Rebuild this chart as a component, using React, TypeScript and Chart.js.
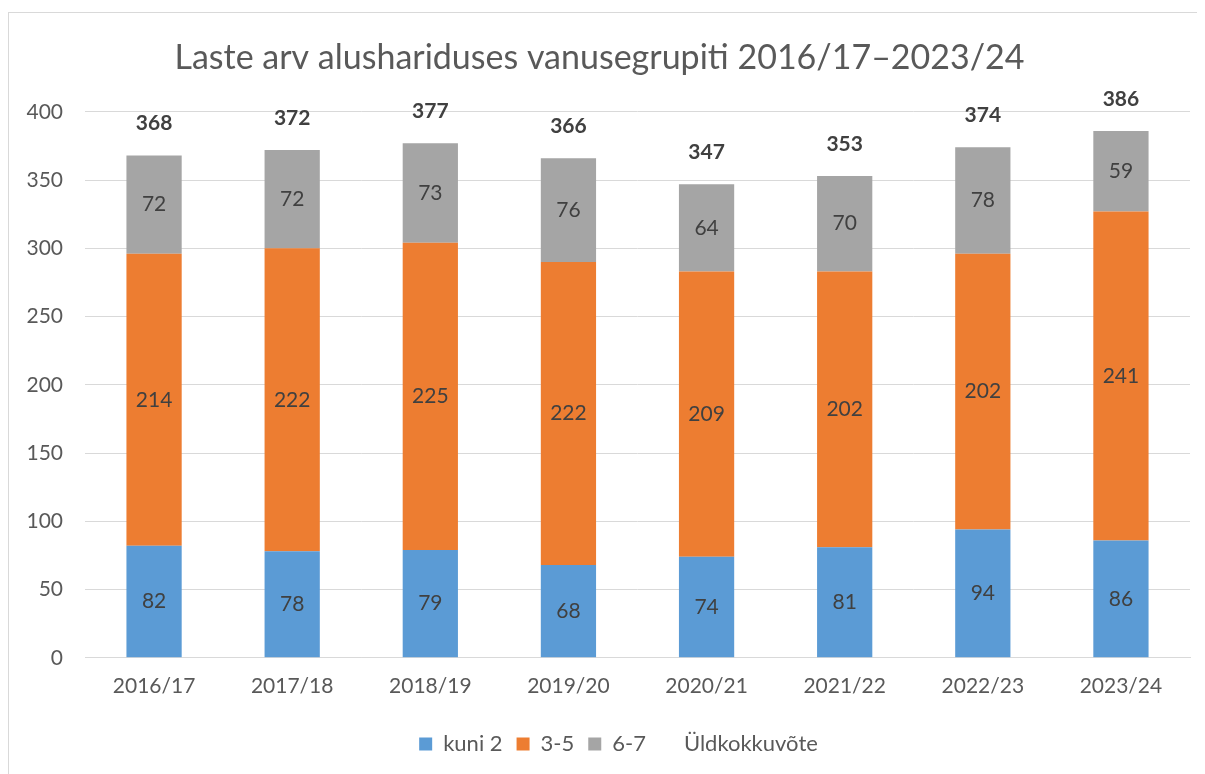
import React, { useEffect, useRef } from "react";
import { Chart, registerables } from "chart.js";

Chart.register(...registerables);

const categories = ["2016/17", "2017/18", "2018/19", "2019/20", "2020/21", "2021/22", "2022/23", "2023/24"];
const kuni2 = [82, 78, 79, 68, 74, 81, 94, 86];
const vanus35 = [214, 222, 225, 222, 209, 202, 202, 241];
const vanus67 = [72, 72, 73, 76, 64, 70, 78, 59];
const totals = [368, 372, 377, 366, 347, 353, 374, 386];
const yTicks = [0, 50, 100, 150, 200, 250, 300, 350, 400];

const FONT = "Lato, 'Open Sans', sans-serif";

const labelPlugin = {
  id: "segmentLabels",
  afterLayout(chart: any) {
    const lg = chart.legend;
    if (lg) {
      lg.left += 19;
      lg.right += 19;
      lg.top += 4;
      lg.bottom += 4;
    }
  },
  afterDatasetsDraw(chart: any) {
    const ctx = chart.ctx;
    ctx.save();
    ctx.textAlign = "center";
    ctx.textBaseline = "middle";
    for (let d = 0; d < 3; d++) {
      const meta = chart.getDatasetMeta(d);
      const data = chart.data.datasets[d].data as number[];
      ctx.font = `21px ${FONT}`;
      ctx.fillStyle = "#404040";
      meta.data.forEach((el: any, i: number) => {
        const y = (el.y + el.base) / 2;
        ctx.fillText(String(data[i]), el.x, y);
      });
    }
    const tmeta = chart.getDatasetMeta(3);
    ctx.font = `bold 21px ${FONT}`;
    ctx.fillStyle = "#404040";
    tmeta.data.forEach((el: any, i: number) => {
      ctx.fillText(String(totals[i]), el.x, el.y - 32);
    });
    ctx.restore();
  },
};

export default function App() {
  const ref = useRef<HTMLCanvasElement | null>(null);
  useEffect(() => {
    if (!ref.current) return;
    const chart = new Chart(ref.current, {
      type: "bar",
      data: {
        labels: categories,
        datasets: [
          { label: "kuni 2", data: kuni2, backgroundColor: "#5B9BD5", stack: "a", barPercentage: 0.4, categoryPercentage: 1 },
          { label: "3-5", data: vanus35, backgroundColor: "#ED7D31", stack: "a", barPercentage: 0.4, categoryPercentage: 1 },
          { label: "6-7", data: vanus67, backgroundColor: "#A5A5A5", stack: "a", barPercentage: 0.4, categoryPercentage: 1 },
          {
            type: "line",
            label: "Üldkokkuvõte",
            data: totals,
            stack: "total",
            showLine: false,
            pointRadius: 0,
            backgroundColor: "rgba(0,0,0,0)",
            borderColor: "rgba(0,0,0,0)",
          } as any,
        ],
      },
      options: {
        responsive: false,
        animation: false,
        layout: { padding: { left: 0, right: 15, top: 0, bottom: 13 } },
        plugins: {
          title: {
            display: true,
            text: "Laste arv alushariduses vanusegrupiti 2016/17–2023/24",
            color: "#595959",
            font: { family: FONT, size: 34, weight: "normal" },
            padding: { top: 25, bottom: 33 },
          },
          legend: {
            position: "bottom",
            labels: {
              color: "#595959",
              font: { family: FONT, size: 22 },
              boxWidth: 13,
              boxHeight: 13,
              padding: 14,
            },
          },
          tooltip: { enabled: false },
        },
        scales: {
          x: {
            stacked: true,
            grid: { display: false, drawTicks: false },
            border: { display: true, color: "#D9D9D9", width: 1 },
            ticks: { color: "#595959", font: { family: FONT, size: 21 }, padding: 16 },
          },
          y: {
            stacked: true,
            min: 0,
            max: 400,
            afterBuildTicks(scale: any) {
              scale.ticks = yTicks.map((v) => ({ value: v }));
            },
            afterFit(scale: any) {
              scale.width = 76;
            },
            grid: { color: "#D9D9D9", drawTicks: false, lineWidth: 1 },
            border: { display: false },
            ticks: { color: "#595959", font: { family: FONT, size: 21 }, padding: 22 },
          },
        },
      },
      plugins: [labelPlugin],
    });
    return () => chart.destroy();
  }, []);
  return (
    <div
      style={{
        marginTop: 4,
        width: 1196,
        height: 761,
        borderTop: "1px solid #D9D9D9",
        borderLeft: "1px solid #D9D9D9",
        overflow: "hidden",
      }}
    >
      <canvas ref={ref} width={1196} height={761} style={{ display: "block" }} />
    </div>
  );
}
